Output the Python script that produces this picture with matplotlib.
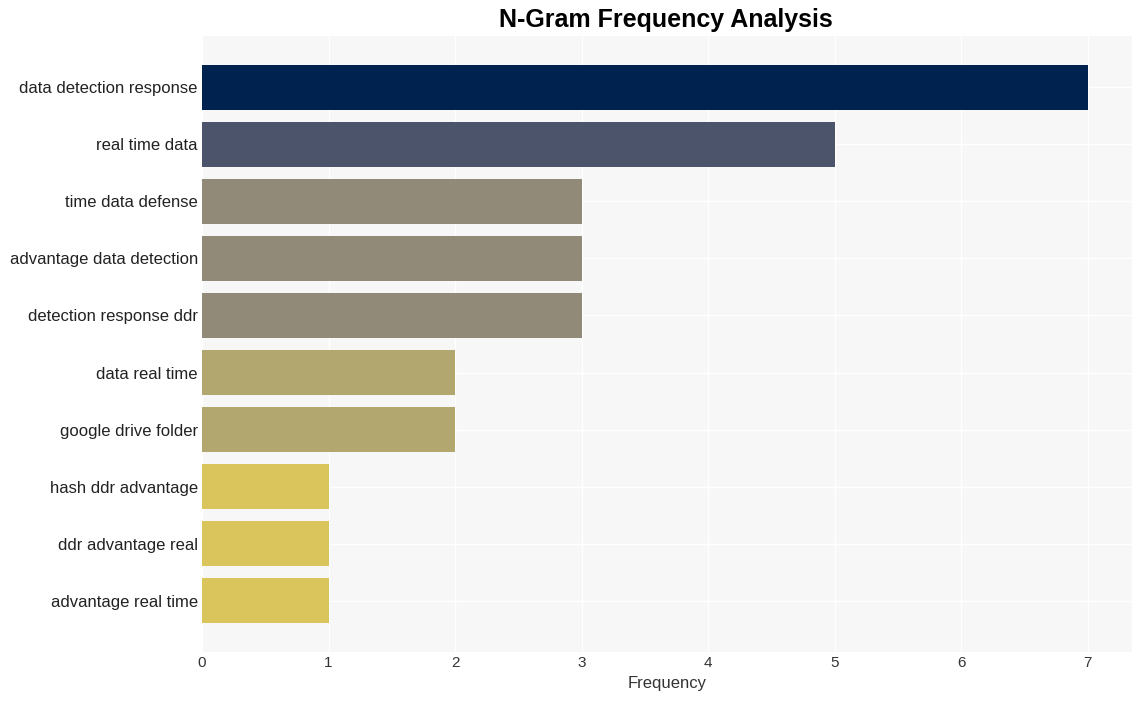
import matplotlib
matplotlib.use("Agg")
import matplotlib.pyplot as plt

# n-gram counts, top to bottom
ngrams = ["data detection response", "real time data", "time data defense",
          "advantage data detection", "detection response ddr", "data real time",
          "google drive folder", "hash ddr advantage", "ddr advantage real",
          "advantage real time"]
counts = [7, 5, 3, 3, 3, 2, 2, 1, 1, 1]
colors = ["#00224e", "#4c546c", "#918a78", "#918a78", "#918a78", "#b2a76e",
          "#b2a76e", "#dac55c", "#dac55c", "#dac55c"]

plt.rcParams['font.family'] = ['Liberation Sans', 'DejaVu Sans']

fig = plt.figure(figsize=(11.42, 7.01), dpi=100)
ax = fig.add_axes([0.1769, 0.0699, 0.9912 - 0.1769, 0.9486 - 0.0699])
ax.set_facecolor("#f7f7f7")

ypos = list(range(len(ngrams)))
ax.barh(ypos, counts, height=0.8, color=colors, zorder=2)
ax.set_yticks(ypos)
ax.set_yticklabels(ngrams, fontsize=12, color="#222222")
ax.set_ylim(len(ngrams) - 0.1, -0.9)
ax.set_xlim(0, 7.35)
ax.set_xticks(range(8))
ax.tick_params(axis="x", labelsize=11, colors="#333333", length=0, pad=3)
ax.tick_params(axis="y", length=0, pad=3)

ax.grid(True, color="white", linewidth=1, zorder=1)
ax.set_axisbelow(True)
for s in ax.spines.values():
    s.set_visible(False)

ax.set_xlabel("Frequency", fontsize=12, color="#333333", labelpad=4)
fig.text(0.583, 0.971, "N-Gram Frequency Analysis", fontsize=18, fontweight="bold",
         ha="center", va="center")

fig.savefig("out.png", dpi=100)
